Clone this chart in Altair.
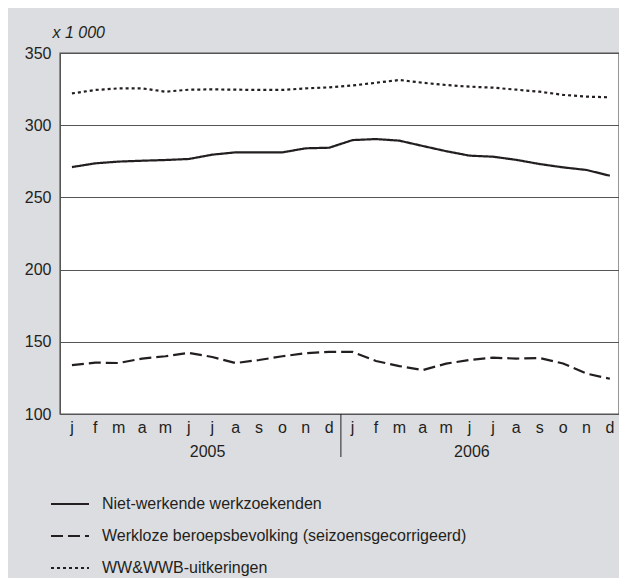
import json
import altair as alt
import pandas as pd

months = ["j", "f", "m", "a", "m", "j", "j", "a", "s", "o", "n", "d"]
years = ["2005", "2006"]
year_pos = [5.8, 17.1]

series_names = [
    "Niet-werkende werkzoekenden",
    "Werkloze beroepsbevolking (seizoensgecorrigeerd)",
    "WW&WWB-uitkeringen",
]

niet_werkend = [271, 273.6, 274.8, 275.4, 275.9, 276.6, 279.6, 281.2, 281.2, 281.2, 284, 284.4,
                289.7, 290.4, 289.3, 285.6, 282, 278.9, 278.2, 276, 273.1, 270.8, 269, 265]
werkloos = [133.8, 135.6, 135.3, 138.4, 140, 142.3, 139.5, 135.3, 137.4, 140, 142.1, 143,
            143, 136.7, 133.2, 130.4, 134.9, 137.4, 139, 138.4, 138.8, 135, 128, 124.4]
ww_wwb = [322, 324.4, 325.5, 325.5, 323.2, 324.6, 324.8, 324.6, 324.4, 324.4, 325.5, 326.2,
          327.5, 329.4, 331.3, 329.4, 327.8, 326.7, 326, 324.6, 323.2, 321, 319.8, 319.3]

y_ticks = [100, 150, 200, 250, 300, 350]

rows = []
for name, vals in zip(series_names, [niet_werkend, werkloos, ww_wwb]):
    for i, v in enumerate(vals):
        rows.append({"i": i, "value": v, "serie": name})
df = pd.DataFrame(rows)
df_months = pd.DataFrame({"i": list(range(24)), "m": months * 2})
df_years = pd.DataFrame({"year": years, "pos": year_pos})
df_div = pd.DataFrame({"pos": [11.5]})

INK = "#231f20"
FONT = "Liberation Sans"

xscale = alt.Scale(domain=[-0.51, 23.39], nice=False, zero=False)
yscale = alt.Scale(domain=[100, 350], nice=False, zero=False)

lines = alt.Chart(df).mark_line(color=INK, strokeWidth=2.2, strokeCap="butt").encode(
    x=alt.X("i:Q", scale=xscale, axis=None),
    y=alt.Y("value:Q", scale=yscale,
            axis=alt.Axis(values=y_ticks, ticks=False, domain=False, grid=True,
                          gridColor="#555555", gridWidth=1, labelOverlap=False,
                          labelFontSize=16, labelColor=INK, labelFont=FONT, labelPadding=9,
                          title="x 1 000", titleAngle=0, titleAlign="left", titleBaseline="alphabetic",
                          titleX=-8, titleY=-16, titleFontSize=16, titleFontStyle="italic",
                          titleFontWeight="normal", titleColor=INK, titleFont=FONT)),
    strokeDash=alt.StrokeDash(
        "serie:N",
        scale=alt.Scale(domain=series_names, range=[[1, 0], [12, 5], [3, 3]]),
        legend=alt.Legend(orient="none", legendX=-10, legendY=431, title=None,
                          symbolType="stroke", symbolSize=1444, symbolStrokeWidth=2,
                          symbolStrokeColor=INK, labelFontSize=16, labelColor=INK,
                          labelFont=FONT, labelOffset=12, rowPadding=4, direction="vertical",
                          labelLimit=500),
    ),
    detail="serie:N",
)

month_text = alt.Chart(df_months).mark_text(
    fontSize=16, color=INK, font=FONT, baseline="alphabetic", align="center"
).encode(
    x=alt.X("i:Q", scale=xscale),
    y=alt.value(380),
    text="m:N",
)

year_text = alt.Chart(df_years).mark_text(
    fontSize=16, color=INK, font=FONT, baseline="alphabetic", align="center"
).encode(
    x=alt.X("pos:Q", scale=xscale),
    y=alt.value(404),
    text="year:N",
)

divider = alt.Chart(df_div).mark_rule(color=INK, strokeWidth=1).encode(
    x=alt.X("pos:Q", scale=xscale),
    y=alt.value(361),
    y2=alt.value(404),
)

frame = alt.Chart(df_div).mark_rect(fill=None, stroke="#555555", strokeWidth=1.2).encode(
    x=alt.value(0), x2=alt.value(559), y=alt.value(0), y2=alt.value(361),
)

chart = alt.layer(lines, frame, divider, month_text, year_text).properties(
    width=559,
    height=361,
    autosize=alt.AutoSizeParams(type="none"),
    padding={"left": 52, "top": 45, "right": 0, "bottom": 164},
    background="#dcdde0",
    view=alt.ViewBackground(fill="white", stroke="#555555", strokeWidth=1),
).configure_view(
    fill="white", stroke="#555555", strokeWidth=1
).configure(font=FONT)

chart.save("out.html", embed_options={"renderer": "svg", "actions": False})
